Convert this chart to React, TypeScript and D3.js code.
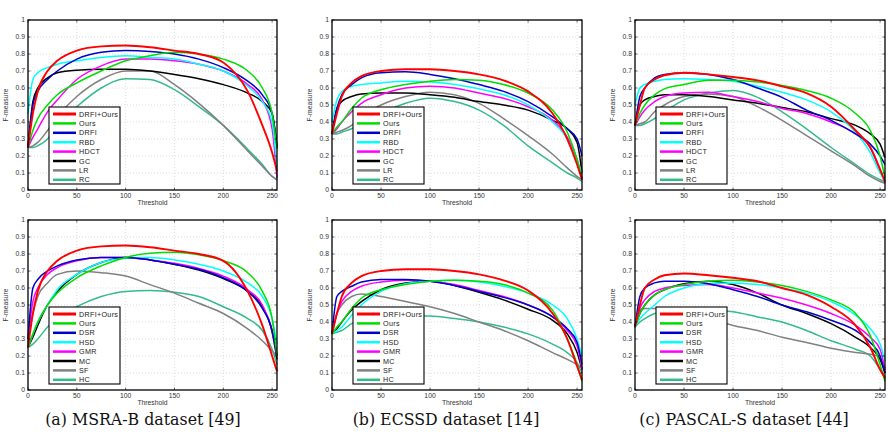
import React from "react";
import * as d3 from "d3";

const thresholds = [0, 5, 10, 20, 30, 50, 75, 100, 125, 150, 175, 200, 225, 240, 250, 255];

const xTicks = [0, 50, 100, 150, 200, 250];
const yTicks = [0, 0.1, 0.2, 0.3, 0.4, 0.5, 0.6, 0.7, 0.8, 0.9, 1];
const yTickLabels = ["0", "0.1", "0.2", "0.3", "0.4", "0.5", "0.6", "0.7", "0.8", "0.9", "1"];

const topLabels = ["DRFI+Ours", "Ours", "DRFI", "RBD", "HDCT", "GC", "LR", "RC"];
const bottomLabels = ["DRFI+Ours", "Ours", "DSR", "HSD", "GMR", "MC", "SF", "HC"];
const seriesColors = ["#ff0000", "#00dd00", "#0000cc", "#00ffff", "#ff00ff", "#000000", "#808080", "#33bb88"];

const captions = ["(a) MSRA-B dataset [49]", "(b) ECSSD dataset [14]", "(c) PASCAL-S dataset [44]"];

// MSRA-B, top row
const msraTop = [
  [0.25, 0.45, 0.58, 0.70, 0.76, 0.82, 0.845, 0.85, 0.84, 0.82, 0.80, 0.75, 0.58, 0.38, 0.22, 0.11],
  [0.25, 0.35, 0.42, 0.50, 0.56, 0.63, 0.70, 0.76, 0.79, 0.81, 0.80, 0.77, 0.70, 0.60, 0.45, 0.24],
  [0.25, 0.50, 0.58, 0.65, 0.70, 0.77, 0.81, 0.82, 0.815, 0.80, 0.77, 0.72, 0.64, 0.56, 0.45, 0.26],
  [0.45, 0.65, 0.69, 0.72, 0.74, 0.76, 0.78, 0.79, 0.78, 0.77, 0.74, 0.70, 0.61, 0.52, 0.40, 0.13],
  [0.25, 0.31, 0.36, 0.46, 0.53, 0.65, 0.73, 0.77, 0.77, 0.76, 0.74, 0.70, 0.62, 0.53, 0.36, 0.07],
  [0.25, 0.52, 0.60, 0.66, 0.69, 0.705, 0.71, 0.71, 0.70, 0.68, 0.655, 0.62, 0.57, 0.52, 0.45, 0.25],
  [0.25, 0.26, 0.28, 0.35, 0.43, 0.55, 0.65, 0.70, 0.70, 0.62, 0.51, 0.38, 0.23, 0.14, 0.08, 0.06],
  [0.25, 0.25, 0.26, 0.30, 0.38, 0.49, 0.60, 0.655, 0.65, 0.59, 0.49, 0.38, 0.24, 0.15, 0.08, 0.06],
];

// ECSSD, top row
const ecssdTop = [
  [0.33, 0.45, 0.55, 0.63, 0.67, 0.70, 0.71, 0.71, 0.70, 0.68, 0.645, 0.58, 0.45, 0.30, 0.15, 0.06],
  [0.33, 0.37, 0.40, 0.48, 0.54, 0.59, 0.62, 0.64, 0.65, 0.645, 0.62, 0.57, 0.47, 0.34, 0.18, 0.07],
  [0.33, 0.48, 0.56, 0.62, 0.66, 0.69, 0.695, 0.68, 0.655, 0.62, 0.58, 0.52, 0.43, 0.36, 0.30, 0.20],
  [0.40, 0.53, 0.58, 0.61, 0.62, 0.63, 0.64, 0.635, 0.62, 0.595, 0.56, 0.50, 0.40, 0.30, 0.17, 0.10],
  [0.33, 0.36, 0.40, 0.46, 0.51, 0.56, 0.60, 0.61, 0.60, 0.57, 0.54, 0.49, 0.41, 0.31, 0.18, 0.07],
  [0.33, 0.48, 0.52, 0.55, 0.565, 0.57, 0.57, 0.56, 0.545, 0.52, 0.50, 0.47, 0.41, 0.36, 0.28, 0.10],
  [0.33, 0.34, 0.35, 0.38, 0.43, 0.50, 0.55, 0.575, 0.56, 0.51, 0.42, 0.32, 0.21, 0.13, 0.08, 0.06],
  [0.33, 0.33, 0.34, 0.36, 0.39, 0.45, 0.51, 0.54, 0.52, 0.47, 0.38, 0.26, 0.16, 0.10, 0.07, 0.05],
];

// PASCAL-S, top row
const pascalTop = [
  [0.38, 0.50, 0.60, 0.65, 0.675, 0.69, 0.68, 0.665, 0.645, 0.61, 0.57, 0.49, 0.35, 0.25, 0.12, 0.05],
  [0.38, 0.45, 0.50, 0.56, 0.595, 0.62, 0.645, 0.645, 0.635, 0.615, 0.585, 0.54, 0.45, 0.35, 0.20, 0.07],
  [0.38, 0.55, 0.60, 0.66, 0.68, 0.69, 0.68, 0.65, 0.60, 0.545, 0.47, 0.41, 0.33, 0.27, 0.20, 0.15],
  [0.50, 0.60, 0.62, 0.64, 0.65, 0.655, 0.65, 0.64, 0.61, 0.575, 0.53, 0.46, 0.34, 0.22, 0.10, 0.05],
  [0.38, 0.43, 0.47, 0.52, 0.55, 0.57, 0.575, 0.55, 0.52, 0.48, 0.45, 0.40, 0.33, 0.25, 0.12, 0.04],
  [0.38, 0.50, 0.53, 0.55, 0.56, 0.56, 0.55, 0.53, 0.51, 0.485, 0.46, 0.42, 0.38, 0.33, 0.27, 0.19],
  [0.38, 0.39, 0.40, 0.46, 0.50, 0.55, 0.565, 0.55, 0.49, 0.41, 0.32, 0.23, 0.14, 0.08, 0.05, 0.04],
  [0.38, 0.38, 0.39, 0.42, 0.46, 0.53, 0.57, 0.585, 0.545, 0.46, 0.36, 0.25, 0.15, 0.09, 0.06, 0.05],
];

// MSRA-B, bottom row
const msraBottom = [
  [0.25, 0.45, 0.58, 0.70, 0.76, 0.82, 0.845, 0.85, 0.84, 0.82, 0.80, 0.76, 0.58, 0.38, 0.20, 0.11],
  [0.25, 0.33, 0.40, 0.50, 0.57, 0.66, 0.73, 0.78, 0.805, 0.81, 0.795, 0.76, 0.69, 0.58, 0.42, 0.20],
  [0.30, 0.60, 0.65, 0.70, 0.73, 0.765, 0.78, 0.78, 0.765, 0.74, 0.71, 0.66, 0.58, 0.48, 0.35, 0.20],
  [0.25, 0.33, 0.40, 0.50, 0.59, 0.68, 0.75, 0.775, 0.78, 0.765, 0.74, 0.70, 0.63, 0.55, 0.42, 0.27],
  [0.30, 0.52, 0.60, 0.68, 0.72, 0.76, 0.78, 0.78, 0.765, 0.745, 0.715, 0.67, 0.59, 0.50, 0.35, 0.20],
  [0.25, 0.31, 0.38, 0.50, 0.58, 0.68, 0.75, 0.78, 0.765, 0.74, 0.705, 0.655, 0.58, 0.49, 0.34, 0.18],
  [0.28, 0.45, 0.55, 0.63, 0.68, 0.70, 0.69, 0.67, 0.62, 0.57, 0.51, 0.45, 0.36, 0.29, 0.23, 0.20],
  [0.25, 0.27, 0.30, 0.37, 0.42, 0.49, 0.55, 0.58, 0.585, 0.575, 0.55, 0.49, 0.42, 0.35, 0.24, 0.15],
];

// ECSSD, bottom row
const ecssdBottom = [
  [0.33, 0.45, 0.55, 0.63, 0.67, 0.70, 0.71, 0.71, 0.70, 0.68, 0.645, 0.585, 0.45, 0.30, 0.14, 0.06],
  [0.33, 0.37, 0.40, 0.48, 0.54, 0.59, 0.62, 0.64, 0.645, 0.64, 0.62, 0.57, 0.47, 0.30, 0.15, 0.05],
  [0.33, 0.55, 0.58, 0.61, 0.635, 0.65, 0.65, 0.64, 0.615, 0.58, 0.545, 0.50, 0.43, 0.36, 0.28, 0.15],
  [0.33, 0.35, 0.37, 0.44, 0.50, 0.58, 0.625, 0.64, 0.645, 0.635, 0.61, 0.57, 0.50, 0.42, 0.30, 0.20],
  [0.33, 0.45, 0.52, 0.58, 0.61, 0.635, 0.645, 0.64, 0.62, 0.585, 0.55, 0.50, 0.43, 0.35, 0.26, 0.12],
  [0.33, 0.36, 0.40, 0.47, 0.52, 0.59, 0.63, 0.64, 0.615, 0.575, 0.53, 0.475, 0.41, 0.33, 0.22, 0.12],
  [0.33, 0.45, 0.50, 0.55, 0.565, 0.55, 0.52, 0.49, 0.45, 0.40, 0.35, 0.29, 0.22, 0.18, 0.15, 0.13],
  [0.33, 0.34, 0.35, 0.39, 0.41, 0.43, 0.435, 0.435, 0.42, 0.40, 0.37, 0.33, 0.27, 0.22, 0.16, 0.10],
];

// PASCAL-S, bottom row
const pascalBottom = [
  [0.37, 0.50, 0.60, 0.65, 0.675, 0.685, 0.675, 0.66, 0.64, 0.60, 0.56, 0.49, 0.38, 0.25, 0.12, 0.07],
  [0.37, 0.45, 0.50, 0.56, 0.59, 0.62, 0.64, 0.645, 0.635, 0.615, 0.58, 0.53, 0.45, 0.32, 0.15, 0.05],
  [0.37, 0.55, 0.60, 0.63, 0.64, 0.64, 0.625, 0.59, 0.55, 0.50, 0.46, 0.41, 0.35, 0.28, 0.20, 0.10],
  [0.37, 0.42, 0.45, 0.50, 0.55, 0.60, 0.625, 0.63, 0.62, 0.60, 0.57, 0.52, 0.44, 0.36, 0.27, 0.17],
  [0.37, 0.48, 0.53, 0.58, 0.60, 0.615, 0.62, 0.60, 0.57, 0.54, 0.50, 0.45, 0.38, 0.31, 0.24, 0.12],
  [0.37, 0.45, 0.50, 0.56, 0.59, 0.625, 0.64, 0.62, 0.57, 0.50, 0.45, 0.39, 0.31, 0.25, 0.18, 0.10],
  [0.37, 0.47, 0.48, 0.48, 0.475, 0.45, 0.42, 0.38, 0.35, 0.31, 0.28, 0.245, 0.22, 0.21, 0.20, 0.20],
  [0.37, 0.40, 0.42, 0.45, 0.46, 0.47, 0.47, 0.46, 0.43, 0.40, 0.35, 0.29, 0.24, 0.20, 0.12, 0.07],
];

const panels = [
  { values: msraTop, labels: topLabels, left: 28, right: 277, top: 20, bottom: 190 },
  { values: ecssdTop, labels: topLabels, left: 332, right: 582, top: 20, bottom: 190 },
  { values: pascalTop, labels: topLabels, left: 635, right: 885, top: 20, bottom: 190 },
  { values: msraBottom, labels: bottomLabels, left: 28, right: 277, top: 220, bottom: 390 },
  { values: ecssdBottom, labels: bottomLabels, left: 332, right: 582, top: 220, bottom: 390 },
  { values: pascalBottom, labels: bottomLabels, left: 635, right: 885, top: 220, bottom: 390 },
];

const tickFont = "'Liberation Sans', Arial, sans-serif";

function Panel({ values, labels, left, right, top, bottom }) {
  const x = d3.scaleLinear().domain([0, 255]).range([left, right]);
  const y = d3.scaleLinear().domain([0, 1]).range([bottom, top]);
  const line = d3
    .line<number>()
    .x((_, i) => x(thresholds[i]))
    .y((d) => y(d))
    .curve(d3.curveMonotoneX);

  const lx = left + 21;
  const ly = top + 87;
  const rowH = 9.4;

  return (
    <g>
      {/* grid */}
      {xTicks.slice(1).map((t) => (
        <line key={"gx" + t} x1={x(t)} x2={x(t)} y1={top} y2={bottom} stroke="#c8c8c8" strokeWidth={0.6} strokeDasharray="1,2" />
      ))}
      {yTicks.slice(1, -1).map((t) => (
        <line key={"gy" + t} x1={left} x2={right} y1={y(t)} y2={y(t)} stroke="#c8c8c8" strokeWidth={0.6} strokeDasharray="1,2" />
      ))}

      {/* curves, drawn back to front */}
      {values
        .map((v, i) => ({ v, i }))
        .reverse()
        .map(({ v, i }) => (
          <path key={"c" + i} d={line(v) || ""} fill="none" stroke={seriesColors[i]} strokeWidth={i === 0 ? 1.9 : 1.5} />
        ))}

      {/* frame */}
      <rect x={left} y={top} width={right - left} height={bottom - top} fill="none" stroke="#000" strokeWidth={1.3} />

      {/* tick marks */}
      {xTicks.map((t) => (
        <g key={"tx" + t}>
          <line x1={x(t)} x2={x(t)} y1={bottom} y2={bottom - 2.5} stroke="#000" strokeWidth={0.6} />
          <line x1={x(t)} x2={x(t)} y1={top} y2={top + 2.5} stroke="#000" strokeWidth={0.6} />
          <text x={x(t)} y={bottom + 8} fontSize={6.8} fill="#333" textAnchor="middle" fontFamily={tickFont}>
            {t}
          </text>
        </g>
      ))}
      {yTicks.map((t, i) => (
        <g key={"ty" + t}>
          <line x1={left} x2={left + 2.5} y1={y(t)} y2={y(t)} stroke="#000" strokeWidth={0.6} />
          <line x1={right} x2={right - 2.5} y1={y(t)} y2={y(t)} stroke="#000" strokeWidth={0.6} />
          <text x={left - 3} y={y(t) + 2.4} fontSize={6.8} fill="#333" textAnchor="end" fontFamily={tickFont}>
            {yTickLabels[i]}
          </text>
        </g>
      ))}

      {/* axis labels */}
      <text x={(left + right) / 2} y={bottom + 15} fontSize={6.8} fill="#333" textAnchor="middle" fontFamily={tickFont}>
        Threshold
      </text>
      <text
        transform={`translate(${left - 20}, ${(top + bottom) / 2}) rotate(-90)`}
        fontSize={6.8}
        fill="#333"
        textAnchor="middle"
        fontFamily={tickFont}
      >
        F-measure
      </text>

      {/* legend */}
      <rect x={lx} y={ly} width={71} height={77} fill="#fff" stroke="#000" strokeWidth={1.1} />
      {labels.map((name, i) => (
        <g key={"lg" + name}>
          <line
            x1={lx + 4}
            x2={lx + 27}
            y1={ly + 7 + i * rowH}
            y2={ly + 7 + i * rowH}
            stroke={seriesColors[i]}
            strokeWidth={i === 0 ? 3 : 2.5}
          />
          <text x={lx + 30} y={ly + 9.6 + i * rowH} fontSize={7.2} letterSpacing={0.3} fill="#222" fontFamily={tickFont}>
            {name}
          </text>
        </g>
      ))}
    </g>
  );
}

export default function App() {
  const captionX = [143, 446, 744];
  return (
    <svg
      width={888}
      height={432}
      style={{ position: "absolute", left: 0, top: 0, background: "#fff" }}
    >
      <rect width={888} height={432} fill="#fff" />
      {panels.map((p, i) => (
        <Panel key={i} {...p} />
      ))}
      {captions.map((c, i) => (
        <text
          key={c}
          x={captionX[i]}
          y={425}
          fontSize={15.8}
          textAnchor="middle"
          fill="#111"
          fontFamily="'DejaVu Serif', 'Liberation Serif', serif"
        >
          {c}
        </text>
      ))}
    </svg>
  );
}
